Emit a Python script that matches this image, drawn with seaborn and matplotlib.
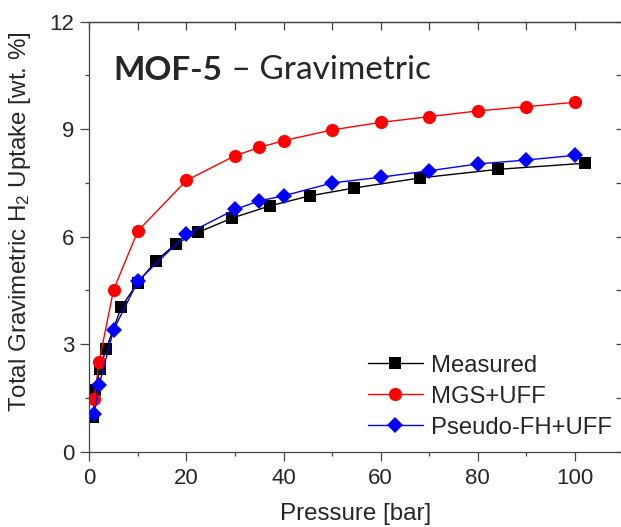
import matplotlib
matplotlib.use('Agg')
import matplotlib.pyplot as plt
import pandas as pd
import seaborn as sns
from matplotlib.ticker import MultipleLocator

# Data
measured_p = [0.8, 1.2, 2.2, 3.5, 6.6, 10, 13.8, 17.9, 22.4, 29.4, 37.2, 45.4, 54.6, 68.1, 84.2, 102.0]
measured_u = [0.97, 1.72, 2.31, 2.88, 4.04, 4.72, 5.33, 5.81, 6.12, 6.52, 6.86, 7.14, 7.36, 7.64, 7.88, 8.05]

sim_p = [1, 2, 5, 10, 20, 30, 35, 40, 50, 60, 70, 80, 90, 100]
mgs_u = [1.47, 2.50, 4.52, 6.16, 7.57, 8.26, 8.49, 8.68, 8.98, 9.19, 9.35, 9.51, 9.63, 9.75]
pseudo_u = [1.05, 1.86, 3.40, 4.76, 6.07, 6.76, 7.00, 7.14, 7.50, 7.66, 7.84, 8.03, 8.14, 8.27]

sns.set_style('ticks')
plt.rcParams['font.family'] = ['Liberation Sans', 'DejaVu Sans']
plt.rcParams['mathtext.fontset'] = 'custom'
plt.rcParams['mathtext.rm'] = 'Liberation Sans'
plt.rcParams['mathtext.it'] = 'Liberation Sans:italic'

df_meas = pd.DataFrame({'p': measured_p, 'u': measured_u})
df_mgs = pd.DataFrame({'p': sim_p, 'u': mgs_u})
df_pseudo = pd.DataFrame({'p': sim_p, 'u': pseudo_u})

fig = plt.figure(figsize=(6.21, 5.27), dpi=100)
ax = fig.add_axes([89.3 / 621, 75.3 / 527, 532.7 / 621, 430 / 527])

sns.lineplot(data=df_meas, x='p', y='u', ax=ax, color='black', lw=1.0,
             marker='s', markersize=8.7, markeredgewidth=0, label='Measured')
sns.lineplot(data=df_mgs, x='p', y='u', ax=ax, color='red', lw=1.0,
             marker='o', markersize=9.5, markeredgewidth=0, label='MGS+UFF')
sns.lineplot(data=df_pseudo, x='p', y='u', ax=ax, color='blue', lw=1.0,
             marker='D', markersize=7.8, markeredgewidth=0, label='Pseudo-FH+UFF')

ax.set_xlim(0, 109.7)
ax.set_ylim(0, 12)
ax.xaxis.set_major_locator(MultipleLocator(20))
ax.xaxis.set_minor_locator(MultipleLocator(10))
ax.yaxis.set_major_locator(MultipleLocator(3))
ax.yaxis.set_minor_locator(MultipleLocator(1.5))
ax.tick_params(which='major', direction='out', length=6.5, width=0.9,
               color='#444444', labelsize=16)
ax.tick_params(which='minor', direction='out', length=3, width=0.9, color='#444444')
ax.tick_params(axis='x', which='major', pad=5.5)
ax.tick_params(axis='y', which='major', pad=4.5)
for s in ax.spines.values():
    s.set_linewidth(0.9)
    s.set_color('#444444')
ax.spines['right'].set_visible(False)

top = ax.secondary_xaxis('top')
top.xaxis.set_major_locator(MultipleLocator(20))
top.xaxis.set_minor_locator(MultipleLocator(10))
top.tick_params(which='both', direction='in', length=6, width=0.9,
                color='#444444', labeltop=False)
top.spines['top'].set_color('#444444')
top.spines['top'].set_linewidth(0.9)
right = ax.secondary_yaxis('right')
right.yaxis.set_major_locator(MultipleLocator(3))
right.yaxis.set_minor_locator(MultipleLocator(1.5))
right.tick_params(which='both', direction='in', length=4.5, width=0.9,
                  color='#444444', labelright=False)
right.spines['right'].set_visible(False)

ax.set_xlabel('Pressure [bar]', fontsize=17.4, labelpad=10)
ax.set_ylabel('Total Gravimetric H$_2$ Uptake [wt. %]', fontsize=17.4)
ax.yaxis.set_label_coords(-0.105, 0.535)

t1 = ax.text(5.0, 10.38, 'MOF-5', fontsize=24, fontweight='bold',
             family=['Lato', 'DejaVu Sans'], va='baseline')
ax.annotate(' \u2013 Gravimetric', xy=(1, 0), xycoords=t1, va='bottom',
            fontsize=24, family=['Lato', 'DejaVu Sans'])

ax.legend(loc='upper left', bbox_to_anchor=(368 / 621, 1 - 354.5 / 527),
          bbox_transform=fig.transFigure, frameon=False, fontsize=17.2,
          borderpad=0, borderaxespad=0, handlelength=2.3, handletextpad=0.35,
          labelspacing=0.38)

fig.savefig('out.png', dpi=100)
